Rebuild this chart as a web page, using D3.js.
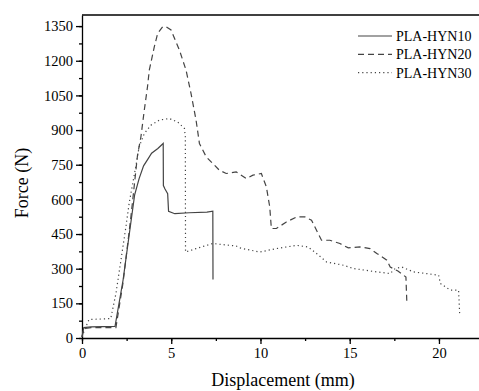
<!DOCTYPE html>
<html>
<head>
<meta charset="utf-8">
<script src="https://cdn.jsdelivr.net/npm/d3@7"></script>
<style>
  body { margin: 0; background: #fff; }
  text, .tick text { font-family: "Liberation Serif", "Times New Roman", serif !important; fill: #000; }
</style>
</head>
<body>
<div id="chart"></div>
<script>
// displacement (mm) / force (N)
const hyn10 = [
  [0, 5], [0.1, 45], [0.5, 48], [1.85, 50], [2.3, 250], [2.65, 450], [2.95, 620],
  [3.2, 690], [3.45, 745], [3.7, 775], [3.9, 800], [4.25, 820], [4.55, 842],
  [4.56, 660], [4.65, 645], [4.8, 625], [4.85, 548], [5.2, 538], [6, 542],
  [7.0, 545], [7.33, 549], [7.34, 253]
];
const hyn20 = [
  [0, 5], [0.1, 40], [0.5, 45], [1.9, 45], [2.3, 240], [2.74, 524], [3.11, 791],
  [3.3, 870], [3.49, 986], [3.67, 1087], [3.77, 1159], [4.05, 1260], [4.24, 1318],
  [4.52, 1347], [4.71, 1347], [4.99, 1333], [5.46, 1246], [5.83, 1159], [6.11, 1058],
  [6.39, 943], [6.58, 842], [6.96, 784], [7.7, 726], [8.08, 712], [8.64, 719],
  [9.2, 690], [9.58, 705], [10.05, 712], [10.33, 654], [10.52, 567], [10.61, 474],
  [10.89, 474], [11.45, 502], [12.02, 524], [12.49, 524], [12.86, 510], [13.14, 466],
  [13.42, 423], [13.89, 423], [14.45, 409], [14.92, 390], [15.58, 394], [16.14, 387],
  [16.52, 366], [17.08, 337], [17.27, 307], [17.7, 290], [18.15, 264], [18.2, 156]
];
const hyn30 = [
  [0, 5], [0.1, 26], [0.39, 80], [1.61, 84], [1.9, 192], [2.18, 336], [2.46, 481],
  [2.64, 582], [3.11, 784], [3.2, 827], [3.49, 885], [3.86, 921], [4.33, 943],
  [4.89, 950], [5.36, 935], [5.74, 907], [5.79, 870], [5.8, 372], [6.39, 387],
  [7.33, 409], [8.64, 398], [8.83, 390], [9.96, 372], [10.89, 387], [12.02, 401],
  [12.67, 394], [13.14, 366], [13.7, 329], [14.64, 315], [15.2, 301], [16.52, 286],
  [17.27, 279], [17.55, 301], [17.92, 307], [18.58, 286], [19.98, 272], [20.08, 236],
  [20.64, 207], [21.1, 207], [21.16, 106]
];

const seriesNames = ["PLA-HYN10", "PLA-HYN20", "PLA-HYN30"];
const seriesData = [hyn10, hyn20, hyn30];
const dashes = [null, "6,4", "1.2,3"];

const xTicks = [0, 5, 10, 15, 20];
const yTicks = [0, 150, 300, 450, 600, 750, 900, 1050, 1200, 1350];

const width = 479, height = 391;
const plotL = 82, plotR = 480, plotT = 15, plotB = 338;

const svg = d3.select("#chart").append("svg")
  .attr("width", width)
  .attr("height", height);

const x = d3.scaleLinear().domain([0, 22.3]).range([plotL, plotR]);
const y = d3.scaleLinear().domain([0, 1398]).range([plotB, plotT]);

// minor ticks
svg.append("g")
  .attr("transform", `translate(0,${plotB})`)
  .call(d3.axisBottom(x).tickValues(d3.range(0, 22.3, 2.5)).tickSize(3).tickFormat(""))
  .call(g => g.select(".domain").remove());
svg.append("g")
  .attr("transform", `translate(${plotL},0)`)
  .call(d3.axisLeft(y).tickValues(d3.range(0, 1398, 75)).tickSize(3).tickFormat(""))
  .call(g => g.select(".domain").remove());

svg.append("g")
  .attr("transform", `translate(0,${plotB})`)
  .call(d3.axisBottom(x).tickValues(xTicks).tickSize(6).tickSizeOuter(0)
    .tickPadding(4).tickFormat(d3.format("d")));
svg.append("g")
  .attr("transform", `translate(${plotL},0)`)
  .call(d3.axisLeft(y).tickValues(yTicks).tickSize(6).tickSizeOuter(0)
    .tickPadding(3).tickFormat(d3.format("d")));

svg.selectAll("g").attr("font-family", null).attr("font-size", null);
svg.selectAll(".tick text").style("font-size", "14.5px");
svg.selectAll(".domain, .tick line").attr("stroke", "#000").attr("stroke-width", 1.3);

// top frame
svg.append("line")
  .attr("x1", plotL).attr("x2", plotR)
  .attr("y1", plotT).attr("y2", plotT)
  .attr("stroke", "#000").attr("stroke-width", 1.3);

const line = d3.line().x(d => x(d[0])).y(d => y(d[1]));

svg.selectAll(".series")
  .data(seriesData)
  .join("path")
  .attr("class", "series")
  .attr("d", line)
  .attr("fill", "none")
  .attr("stroke", "#444")
  .attr("stroke-width", 1.2)
  .attr("stroke-dasharray", (d, i) => dashes[i]);

// legend
const legend = svg.append("g");
seriesNames.forEach((name, i) => {
  const ly = 36 + i * 18.3;
  legend.append("line")
    .attr("x1", 358).attr("x2", 392)
    .attr("y1", ly).attr("y2", ly)
    .attr("stroke", "#444").attr("stroke-width", 1.2)
    .attr("stroke-dasharray", dashes[i]);
  legend.append("text")
    .attr("x", 396).attr("y", ly)
    .attr("dy", "0.35em")
    .style("font-size", "14px")
    .text(name);
});

svg.append("text")
  .attr("x", 283).attr("y", 386)
  .attr("text-anchor", "middle")
  .style("font-size", "18px")
  .text("Displacement (mm)");

svg.append("text")
  .attr("transform", "translate(28,183) rotate(-90)")
  .attr("text-anchor", "middle")
  .style("font-size", "18px")
  .text("Force (N)");
</script>
</body>
</html>
